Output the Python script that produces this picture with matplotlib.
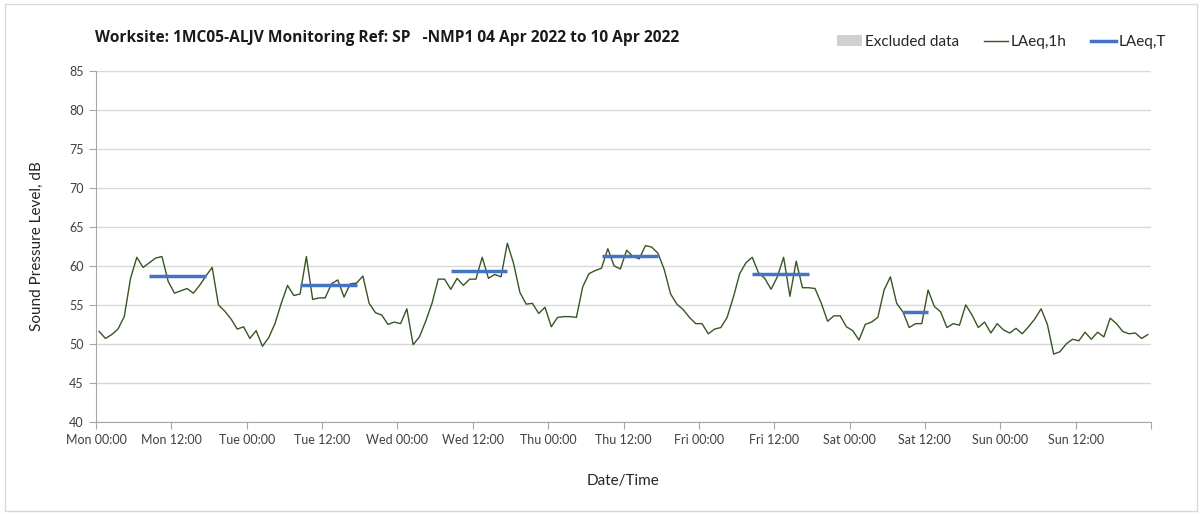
import numpy as np
import matplotlib
matplotlib.use("Agg")
import matplotlib.pyplot as plt
from matplotlib.patches import Patch, Rectangle
from matplotlib.lines import Line2D

plt.rcParams['font.family'] = ['Lato', 'DejaVu Sans']

# hourly LAeq,1h values, one list per day (hour 0..23)
mon = [51.6, 50.7, 51.2, 51.9, 53.5, 58.4, 61.1, 59.8, 60.4, 61.0, 61.2, 58.0, 56.5, 56.8, 57.1, 56.5, 57.5, 58.7, 59.8, 55.0, 54.2, 53.2, 51.9, 52.2]
tue = [50.7, 51.7, 49.7, 50.8, 52.6, 55.2, 57.5, 56.2, 56.4, 61.2, 55.7, 55.9, 55.9, 57.7, 58.2, 56.0, 57.7, 57.8, 58.7, 55.2, 54.0, 53.7, 52.5, 52.8]
wed = [52.6, 54.5, 49.9, 50.9, 52.9, 55.2, 58.3, 58.3, 57.0, 58.4, 57.5, 58.3, 58.3, 61.1, 58.4, 58.9, 58.6, 62.9, 60.3, 56.6, 55.1, 55.2, 53.9, 54.7]
thu = [52.2, 53.4, 53.5, 53.5, 53.4, 57.3, 59.0, 59.4, 59.7, 62.2, 60.0, 59.6, 62.0, 61.2, 60.9, 62.6, 62.4, 61.6, 59.5, 56.4, 55.1, 54.4, 53.4, 52.6]
fri = [52.6, 51.3, 51.9, 52.1, 53.4, 56.0, 59.0, 60.4, 61.1, 59.1, 58.4, 57.0, 58.6, 61.1, 56.1, 60.6, 57.2, 57.2, 57.1, 55.2, 52.9, 53.6, 53.6, 52.2]
sat = [51.7, 50.5, 52.5, 52.8, 53.4, 56.9, 58.6, 55.2, 54.1, 52.1, 52.6, 52.6, 56.9, 54.8, 54.1, 52.1, 52.6, 52.4, 55.0, 53.7, 52.1, 52.8, 51.4, 52.6]
sun = [51.8, 51.4, 52.0, 51.3, 52.2, 53.2, 54.5, 52.5, 48.7, 49.0, 50.0, 50.6, 50.4, 51.5, 50.6, 51.5, 50.9, 53.3, 52.6, 51.6, 51.3, 51.4, 50.7, 51.2]

days = ['Mon', 'Tue', 'Wed', 'Thu', 'Fri', 'Sat', 'Sun']

# LAeq,T for the working period of each day
laeq_t = [58.75, 57.5, 59.35, 61.3, 59.0, 54.05]
t_start = [8, 8, 8, 8, 8, 8]
t_end = [17, 17, 17, 17, 17, 12]

laeq_1h = np.array(mon + tue + wed + thu + fri + sat + sun)
hours = np.arange(len(laeq_1h)) + 0.5

laeq_T = np.full(len(laeq_1h), np.nan)
for d in range(len(laeq_t)):
    laeq_T[d * 24 + t_start[d]: d * 24 + t_end[d] + 1] = laeq_t[d]

fig = plt.figure(figsize=(12.03, 5.14), dpi=100)
ax = fig.add_axes([96 / 1203, 1 - 422 / 514, (1151 - 96) / 1203, (422 - 70.7) / 514])

fig.patches.append(Rectangle((5 / 1203, 3 / 514), 1192 / 1203, 507 / 514, transform=fig.transFigure,
                             fill=False, edgecolor='#d9d9d9', linewidth=1))

ax.plot(hours, laeq_1h, color='#375623', linewidth=1.0, zorder=3)
ax.plot(hours, laeq_T, color='#4472c4', linewidth=2.5, zorder=4, solid_capstyle='butt')

ax.set_xlim(0, 168)
ax.set_ylim(40, 85)
ax.set_yticks(np.arange(40, 86, 5))
ax.set_xticks(np.arange(0, 169, 12))
xt_labels = []
for d in days:
    xt_labels += [d + ' 00:00', d + ' 12:00']
ax.set_xticklabels(xt_labels + [''])

ax.set_xticks(np.arange(0, 169, 24), minor=True)
ax.grid(False)
ax.grid(which='minor', axis='x', color='#d9d9d9', linewidth=1)
ax.grid(which='major', axis='y', color='#d9d9d9', linewidth=1)
ax.tick_params(axis='x', which='minor', length=0)
ax.tick_params(axis='x', which='major', length=5, color='#a6a6a6', labelsize=9, labelcolor='#404040', pad=4)
ax.tick_params(axis='y', length=5, color='#a6a6a6', labelsize=9, labelcolor='#404040', pad=4)
ax.set_axisbelow(True)

for s in ['top', 'right']:
    ax.spines[s].set_visible(False)
for s in ['left', 'bottom']:
    ax.spines[s].set_color('#a6a6a6')

ax.set_ylabel('Sound Pressure Level, dB', fontsize=11, color='#262626', labelpad=18)
ax.set_xlabel('Date/Time', fontsize=11, color='#262626', labelpad=20)

fig.text(95 / 1203, 1 - 38 / 514, 'Worksite: 1MC05-ALJV Monitoring Ref: SP   -NMP1 04 Apr 2022 to 10 Apr 2022',
         fontsize=11.2, fontweight='bold', family=['Open Sans', 'DejaVu Sans'], color='#1a1a1a',
         va='center', ha='left')

handles = [Patch(facecolor='#d0d0d0', edgecolor='none', label='Excluded data'),
           Line2D([], [], color='#375623', linewidth=1.0, label='LAeq,1h'),
           Line2D([], [], color='#4472c4', linewidth=2.5, label='LAeq,T')]
fig.legend(handles=handles, loc='center right', bbox_to_anchor=(1180 / 1203, 1 - 42 / 514), ncol=3,
           frameon=False, fontsize=11, handlelength=1.6, handletextpad=0.2, columnspacing=1.6,
           labelcolor='#262626')

fig.savefig('out.png', dpi=100)
